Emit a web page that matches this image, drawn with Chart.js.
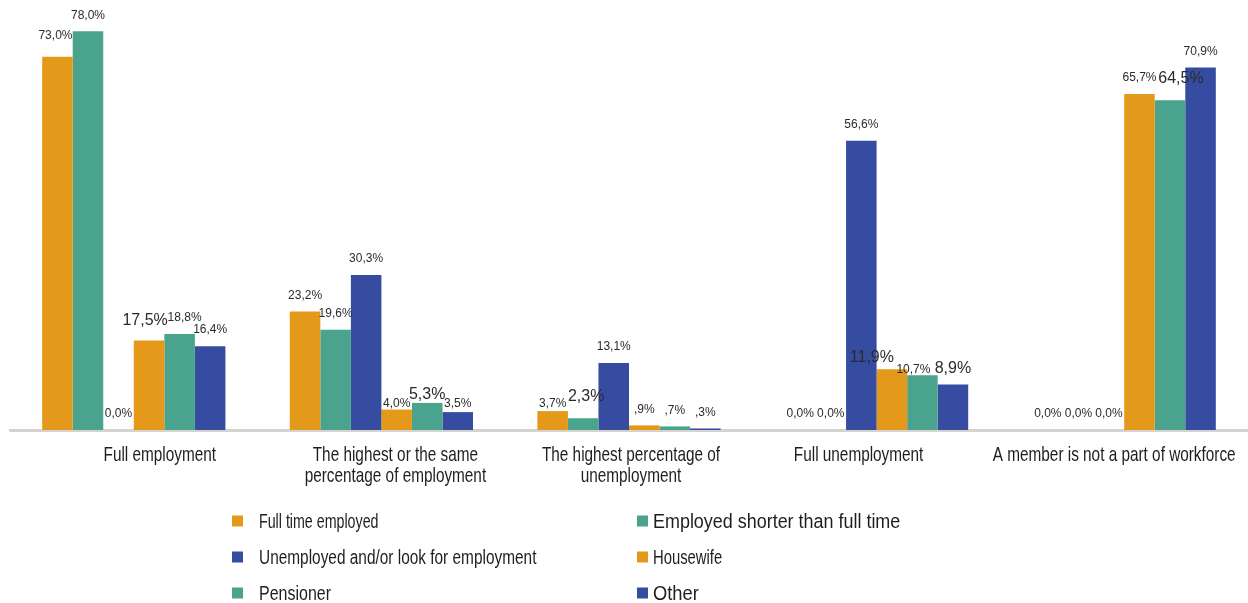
<!DOCTYPE html>
<html>
<head>
<meta charset="utf-8">
<title>Employment status of household members</title>
<script src="https://cdn.jsdelivr.net/npm/chart.js@4.4.1/dist/chart.umd.min.js"></script>
<style>
  html, body { margin: 0; padding: 0; background: #fff; }
  #wrap { width: 1248px; height: 603px; position: relative; }
</style>
</head>
<body>
<div id="wrap"><canvas id="employmentChart"></canvas></div>
<script>
// Household groups on the x axis
const categories = [
  "Full employment",
  ["The highest or the same", "percentage of employment"],
  ["The highest percentage of", "unemployment"],
  "Full unemployment",
  "A member is not a part of workforce",
];

const seriesNames = [
  "Full time employed",
  "Employed shorter than full time",
  "Unemployed and/or look for employment",
  "Housewife",
  "Pensioner",
  "Other",
];

// Shares in percent, one array per status
const fullTimeEmployed = [73.0, 23.2, 3.7, 0.0, 0.0];
const employedShorter = [78.0, 19.6, 2.3, 0.0, 0.0];
const unemployedLooking = [0.0, 30.3, 13.1, 56.6, 0.0];
const housewife = [17.5, 4.0, 0.9, 11.9, 65.7];
const pensioner = [18.8, 5.3, 0.7, 10.7, 64.5];
const other = [16.4, 3.5, 0.3, 8.9, 70.9];

const seriesValues = [fullTimeEmployed, employedShorter, unemployedLooking, housewife, pensioner, other];

const ORANGE = "#e5991b";
const TEAL = "#4aa38c";
const BLUE = "#364ca0";
const seriesColors = [ORANGE, TEAL, BLUE, ORANGE, TEAL, BLUE];

const SANS = "'Liberation Sans', Arial, sans-serif";

// some value labels are set bigger, a few are nudged off crowded bars
// key is "dataset-category"
const bigLabels = ["3-0", "4-1", "1-2", "3-3", "5-3", "4-4"];
const labelNudge = {
  "0-0": [-2, -5], "3-0": [-4, -4], "4-0": [5, 0],
  "3-1": [0, 10], "4-1": [0, 8], "5-1": [0, 8],
  "0-2": [0, 9], "1-2": [3, -6],
  "3-3": [-20, 4], "4-3": [-9, 10],
  "4-4": [11, -6],
};
// x shift of the category captions from the group centre
const captionShift = [26, 14, 2, -18, -10];
// horizontal squeeze of each legend entry's text
const legendSqueeze = [0.73, 0.92, 0.79, 0.76, 0.82, 0.94];

function pct(v) {
  let s = v.toFixed(1).replace(".", ",");
  if (v > 0 && v < 1) s = s.slice(1);
  return s + "%";
}

// condensed text, done by squeezing Liberation Sans sideways
function narrowText(ctx, text, x, y, squeeze) {
  ctx.save();
  ctx.translate(x, y);
  ctx.scale(squeeze, 1);
  ctx.fillText(text, 0, 0);
  ctx.restore();
}

const valueLabels = {
  id: "valueLabels",
  afterDatasetsDraw(chart) {
    const ctx = chart.ctx;
    ctx.save();
    ctx.fillStyle = "#2b2b2b";
    ctx.textAlign = "center";
    ctx.textBaseline = "middle";
    chart.data.datasets.forEach((ds, di) => {
      chart.getDatasetMeta(di).data.forEach((bar, i) => {
        const key = di + "-" + i;
        const big = bigLabels.includes(key);
        const [dx, dy] = labelNudge[key] || [0, 0];
        ctx.font = (big ? "16px " : "12px ") + SANS;
        ctx.fillText(pct(ds.data[i]), bar.x + dx, bar.y - 16 + dy);
      });
    });
    ctx.restore();
  },
};

const categoryCaptions = {
  id: "categoryCaptions",
  afterDraw(chart) {
    const ctx = chart.ctx;
    const xScale = chart.scales.x;
    const top = chart.chartArea.bottom;
    ctx.save();
    ctx.fillStyle = "#1e1e1e";
    ctx.textAlign = "center";
    ctx.textBaseline = "alphabetic";
    ctx.font = "21px " + SANS;
    chart.data.labels.forEach((label, i) => {
      const lines = Array.isArray(label) ? label : [label];
      const x = xScale.getPixelForTick(i) + captionShift[i];
      lines.forEach((line, li) => narrowText(ctx, line, x, top + 31 + li * 21, 0.73));
    });
    ctx.restore();
  },
};

// two-column legend under the captions
const gridLegend = {
  id: "gridLegend",
  afterDraw(chart) {
    const ctx = chart.ctx;
    const cols = [{ box: 232, text: 259 }, { box: 637, text: 653 }];
    const rows = [521, 557, 593];
    ctx.save();
    ctx.textBaseline = "alphabetic";
    ctx.textAlign = "left";
    ctx.font = "19.5px " + SANS;
    chart.data.datasets.forEach((ds, i) => {
      const c = cols[i % 2];
      const y = rows[Math.floor(i / 2)];
      ctx.fillStyle = ds.backgroundColor;
      ctx.fillRect(c.box, y - 5.5, 11, 11);
      ctx.fillStyle = "#1e1e1e";
      narrowText(ctx, ds.label, c.text, y + 7, legendSqueeze[i]);
    });
    ctx.restore();
  },
};

new Chart(document.getElementById("employmentChart"), {
  type: "bar",
  data: {
    labels: categories,
    datasets: seriesNames.map((name, i) => ({
      label: name,
      data: seriesValues[i],
      backgroundColor: seriesColors[i],
      borderWidth: 0,
      categoryPercentage: 0.74,
      barPercentage: 1.0,
    })),
  },
  options: {
    responsive: true,
    maintainAspectRatio: false,
    animation: false,
    layout: { padding: { top: 21, left: 10, right: -4, bottom: 0 } },
    scales: {
      x: {
        grid: { display: false },
        border: { display: true, color: "#d6d3ce", width: 3 },
        ticks: { display: false },
        afterFit(scale) {
          scale.height = 173;
        },
      },
      y: {
        display: false,
        min: 0,
        max: 80,
      },
    },
    plugins: {
      legend: { display: false },
      tooltip: { enabled: false },
    },
  },
  plugins: [valueLabels, categoryCaptions, gridLegend],
});
</script>
</body>
</html>
